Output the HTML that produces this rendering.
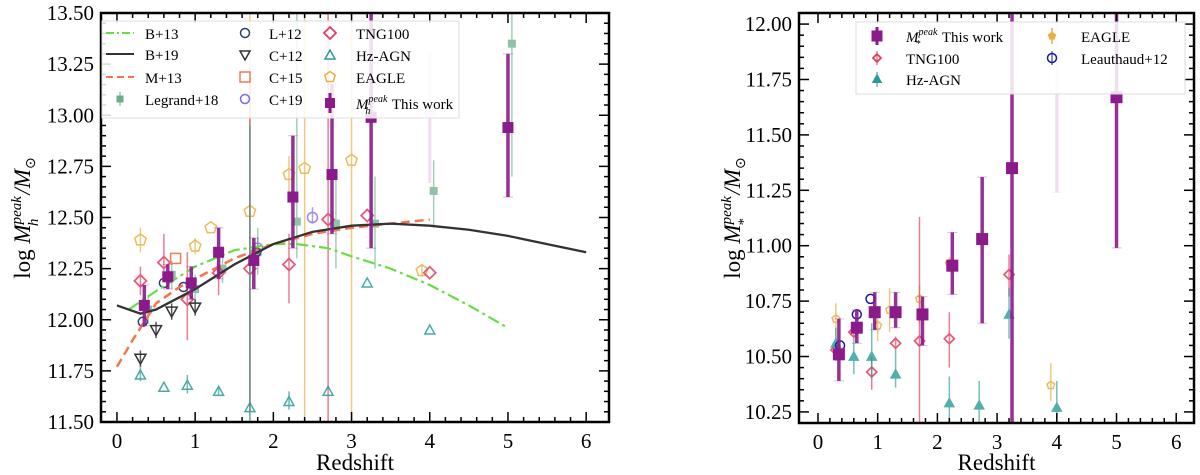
<!DOCTYPE html>
<html><head><meta charset="utf-8"><style>
html,body{margin:0;padding:0;background:#fff;}
svg{display:block;font-family:"Liberation Serif",serif;}
</style></head><body>
<svg id="fig" width="1200" height="475" viewBox="0 0 1200 475" xmlns="http://www.w3.org/2000/svg"></svg>
<script>
// ===== Left panel data (halo mass) =====
const twZ=[0.35,0.65,0.95,1.3,1.75,2.25,2.75,3.25,5.0];
const twM=[12.07,12.21,12.18,12.33,12.29,12.60,12.71,12.99,12.94];
const twLo=[11.97,12.15,12.10,12.20,12.15,12.35,12.42,12.35,12.60];
const twHi=[12.17,12.27,12.26,12.45,12.40,12.90,13.15,13.60,13.30];
const twFadeZ=[4.0]; const twFadeM=[13.02]; const twFadeLo=[12.67]; const twFadeHi=[13.31];
const lgZ=[0.4,0.7,1.0,1.35,1.8,2.3,2.8,3.3,4.05,5.05];
const lgM=[12.05,12.22,12.15,12.25,12.33,12.48,12.47,12.47,12.63,13.35];
const lgLo=[11.98,12.15,12.08,12.18,12.22,12.30,12.25,12.25,12.45,12.70];
const lgHi=[12.12,12.29,12.22,12.32,12.45,13.55,12.70,12.70,12.78,13.55];
const l12Z=[0.33,0.6,0.85,1.78]; const l12M=[11.99,12.18,12.16,12.33];
const c12Z=[0.3,0.5,0.7,1.0]; const c12M=[11.81,11.95,12.04,12.06];
const c15Z=[0.75]; const c15M=[12.30];
const c19Z=[1.8,2.5]; const c19M=[12.35,12.50];
const tngZ=[0.3,0.6,0.9,1.3,1.7,2.2,2.7,3.2,4.0];
const tngM=[12.19,12.28,12.10,12.23,12.25,12.27,12.49,12.51,12.23];
const tngLo=[12.12,12.20,11.90,12.12,11.55,12.08,11.50,12.51,12.23];
const tngHi=[12.26,12.42,12.33,12.35,13.20,12.42,13.60,12.51,12.23];
const hzZ=[0.3,0.6,0.9,1.3,1.7,2.2,2.7,3.2,4.0];
const hzM=[11.73,11.67,11.68,11.65,11.57,11.60,11.65,12.18,11.95];
const hzLo=[11.70,11.67,11.64,11.63,11.50,11.56,11.65,12.18,11.95];
const hzHi=[11.77,11.67,11.73,11.67,12.95,11.65,11.65,12.18,11.95];
const eaZ=[0.3,1.0,1.2,1.7,2.2,2.4,3.0,3.9];
const eaM=[12.39,12.36,12.45,12.53,12.71,12.74,12.78,12.24];
const eaLo=[12.33,12.32,12.45,11.50,12.62,11.50,11.50,12.21];
const eaHi=[12.45,12.40,12.45,13.60,12.80,13.60,13.60,12.27];
const b19Z=[0,0.3,0.5,1,1.5,2,2.5,3,3.5,4,4.5,5,5.5,6];
const b19M=[12.07,12.03,12.05,12.15,12.27,12.37,12.43,12.46,12.47,12.46,12.44,12.41,12.37,12.33];
const b13Z=[0.15,0.5,1,1.5,2,2.3,2.7,3,3.5,4,4.5,5];
const b13M=[12.05,12.14,12.26,12.34,12.37,12.37,12.35,12.31,12.25,12.17,12.07,11.96];
const m13Z=[0,0.2,0.5,0.8,1,1.5,2,2.5,3,3.5,4];
const m13M=[11.77,11.90,12.08,12.16,12.20,12.30,12.37,12.42,12.45,12.47,12.49];
const leftYTicks=["11.50","11.75","12.00","12.25","12.50","12.75","13.00","13.25","13.50"];
const xTicks=["0","1","2","3","4","5","6"];
// ===== Right panel data (stellar mass) =====
const rtwZ=[0.35,0.65,0.95,1.3,1.75,2.25,2.75,3.25,5.0];
const rtwM=[10.51,10.63,10.70,10.70,10.69,10.91,11.03,11.35,11.67];
const rtwLo=[10.39,10.56,10.62,10.63,10.55,10.78,10.65,10.15,10.99];
const rtwHi=[10.67,10.71,10.79,10.79,10.77,11.06,11.31,12.10,12.10];
const rtwFadeZ=[4.0]; const rtwFadeM=[11.87]; const rtwFadeLo=[11.24]; const rtwFadeHi=[12.10];
const rtngZ=[0.3,0.6,0.9,1.3,1.7,2.2,3.2];
const rtngM=[10.53,10.61,10.43,10.56,10.57,10.58,10.87];
const rtngLo=[10.50,10.58,10.35,10.53,10.15,10.45,10.77];
const rtngHi=[10.56,10.65,10.50,10.59,11.13,10.70,10.96];
const rhzZ=[0.3,0.6,0.9,1.3,2.2,2.7,3.2,4.0];
const rhzM=[10.56,10.50,10.50,10.42,10.29,10.28,10.69,10.27];
const rhzLo=[10.48,10.42,10.40,10.36,10.15,10.15,10.58,10.15];
const rhzHi=[10.63,10.58,10.65,10.53,10.41,10.39,10.81,10.39];
const reaZ=[0.3,1.0,1.2,1.7,2.2,3.9];
const reaM=[10.67,10.64,10.71,10.76,10.92,10.37];
const reaLo=[10.58,10.57,10.61,10.65,10.88,10.30];
const reaHi=[10.74,10.72,10.81,10.82,10.95,10.47];
const rlZ=[0.37,0.65,0.88]; const rlM=[10.55,10.69,10.76];
const rightYTicks=["10.25","10.50","10.75","11.00","11.25","11.50","11.75","12.00"];

const NS="http://www.w3.org/2000/svg";
const fig=document.getElementById('fig');
function el(tag,attrs,parent){const e=document.createElementNS(NS,tag);for(const k in attrs)e.setAttribute(k,attrs[k]);(parent||fig).appendChild(e);return e;}

const C={tw:'#8b1a8b',lg:'#5aa57a',l12:'#2b3f7a',c12:'#333',c15:'#f07a5a',c19:'#7b6ae0',tng:'#e0405f',hz:'#2a9a9a',ea:'#e6b040',lea:'#1a1a9a'};

function panel(P){
  const g=el('g',{});
  
  
  const sx=v=>P.x0+(v-P.xmin)*(P.x1-P.x0)/(P.xmax-P.xmin);
  const sy=v=>P.y1-(v-P.ymin)*(P.y1-P.y0)/(P.ymax-P.ymin);
  P.sx=sx;P.sy=sy;
  const clip=el('clipPath',{id:P.name+'-clip'},g);
  el('rect',{x:P.x0,y:P.y0,width:P.x1-P.x0,height:P.y1-P.y0},clip);
  P.g=el('g',{'clip-path':'url(#'+P.name+'-clip)'},g);
  const ax=el('g',{},g);
  
  
  for(let i=0;i<=6*5;i++){const v=i/5;const x=sx(v);const L=i%5==0?10:5;
    el('line',{x1:x,x2:x,y1:P.y1,y2:P.y1-L,stroke:'#000','stroke-width':1.5},ax);
    el('line',{x1:x,x2:x,y1:P.y0,y2:P.y0+L,stroke:'#000','stroke-width':1.5},ax);}
  xTicks.forEach(t=>{const tx=el('text',{x:sx(+t),y:P.y1+26,'font-size':21,'text-anchor':'middle'},ax);tx.textContent=t;
    });
  for(let v=Math.ceil(P.ymin/0.05)*0.05;v<=P.ymax+1e-6;v+=0.05){const y=sy(v);const maj=Math.abs(v/0.25-Math.round(v/0.25))<1e-3;const L=maj?10:5;
    el('line',{x1:P.x0,x2:P.x0+L,y1:y,y2:y,stroke:'#000','stroke-width':1.5},ax);
    el('line',{x1:P.x1,x2:P.x1-L,y1:y,y2:y,stroke:'#000','stroke-width':1.5},ax);}
  P.yTicks.forEach(t=>{const tx=el('text',{x:P.x0-7,y:sy(+t)+7,'font-size':21,'text-anchor':'end'},ax);tx.textContent=t;
    });
  el('rect',{x:P.x0,y:P.y0,width:P.x1-P.x0,height:P.y1-P.y0,fill:'none',stroke:'#000','stroke-width':2.5},ax);
  const xl=el('text',{x:(P.x0+P.x1)/2,y:470,'font-size':23,'text-anchor':'middle'},ax);xl.textContent='Redshift';
  
  return P;
}
function marker(g,type,x,y,col,s,fill){
  const f=fill?col:'none';
  if(type=='sq') el('rect',{x:x-s,y:y-s,width:2*s,height:2*s,fill:col,stroke:col},g);
  else if(type=='circ') el('circle',{cx:x,cy:y,r:s,fill:'none',stroke:col,'stroke-width':1.5},g);
  else if(type=='osq') el('rect',{x:x-s,y:y-s,width:2*s,height:2*s,fill:'none',stroke:col,'stroke-width':1.5},g);
  else if(type=='dia') el('polygon',{points:`${x},${y-s} ${x+s},${y} ${x},${y+s} ${x-s},${y}`,fill:'none',stroke:col,'stroke-width':1.8},g);
  else if(type=='tri') el('polygon',{points:`${x},${y-s} ${x+s},${y+s*0.8} ${x-s},${y+s*0.8}`,fill:f,stroke:col,'stroke-width':1.5},g);
  else if(type=='vtri') el('polygon',{points:`${x},${y+s} ${x+s},${y-s*0.8} ${x-s},${y-s*0.8}`,fill:'none',stroke:col,'stroke-width':1.5},g);
  else if(type=='pent'){let p=[];for(let i=0;i<5;i++){const a=-Math.PI/2+i*2*Math.PI/5;p.push((x+s*Math.cos(a))+','+(y+s*Math.sin(a)));}
    el('polygon',{points:p.join(' '),fill:f,stroke:col,'stroke-width':1.5},g);}
}
function series(P,name,Z,M,Lo,Hi,type,col,s,opts){
  opts=opts||{};
  const g=el('g',{opacity:opts.op||1},P.g);
  
  
  Z.forEach((z,i)=>{const x=P.sx(z),y=P.sy(M[i]);
    if(Lo){el('line',{x1:x,x2:x,y1:P.sy(Lo[i]),y2:P.sy(Hi[i]),stroke:col,'stroke-width':opts.ew||1.5,opacity:opts.eop||0.8},g);
      if(opts.cap){[Lo[i],Hi[i]].forEach(v=>el('line',{x1:x-5,x2:x+5,y1:P.sy(v),y2:P.sy(v),stroke:col,'stroke-width':1,opacity:0.3},g));}}
    marker(g,type,x,y,col,s,opts.fill);});
}
function curve(P,name,Z,M,col,dash,w){
  const d=Z.map((z,i)=>(i?'L':'M')+P.sx(z)+','+P.sy(M[i])).join(' ');
  const p=el('path',{d:d,fill:'none',stroke:col,'stroke-width':w||2.5,'stroke-dasharray':dash||'none'},P.g);
  
  
}

const L=panel({name:'halo-mass-panel',x0:101,x1:609,y0:13,y1:422,xmin:-0.204,xmax:6.292,ymin:11.5,ymax:13.5,yTicks:leftYTicks});
series(L,'legrand18-points',lgZ,lgM,lgLo,lgHi,'sq','#6aae8a',3.5,{op:0.75});
series(L,'eagle-points',eaZ,eaM,eaLo,eaHi,'pent',C.ea,6,{op:0.85});
series(L,'tng100-points',tngZ,tngM,tngLo,tngHi,'dia',C.tng,6,{op:0.85});
series(L,'hzagn-points',hzZ,hzM,hzLo,hzHi,'tri',C.hz,5,{op:0.85});
series(L,'l12-points',l12Z,l12M,null,null,'circ',C.l12,4.5);
series(L,'c12-points',c12Z,c12M,c12Z.map((z,i)=>c12M[i]-0.04),c12Z.map((z,i)=>c12M[i]+0.04),'vtri',C.c12,5.5);
series(L,'c15-points',c15Z,c15M,null,null,'osq',C.c15,5);
series(L,'c19-points',c19Z,c19M,c19Z.map((z,i)=>c19M[i]-0.03),c19Z.map((z,i)=>c19M[i]+0.05),'circ',C.c19,5,{op:0.8});
curve(L,'b13-curve',b13Z,b13M,'#66dd44','12,4,3,4',2.2);
curve(L,'m13-curve',m13Z,m13M,'#f4754a','9,5',2.5);
curve(L,'b19-curve',b19Z,b19M,'#333',null,2.3);
series(L,'this-work-faded',twFadeZ,twFadeM,twFadeLo,twFadeHi,'sq','#c070c0',5,{op:0.3,ew:3,cap:true});
series(L,'this-work-points',twZ,twM,twLo,twHi,'sq',C.tw,5,{ew:3.5,eop:0.9,cap:true});

(function(){
  const g=el('g',{});
  
  
  el('rect',{x:102,y:21,width:357,height:97,fill:'#fff',stroke:'#ddd','fill-opacity':0.85},g);
  const t=(x,y,s)=>{const e=el('text',{x:x,y:y+6,'font-size':15},g);e.textContent=s;return e;};
  el('line',{x1:106,x2:134,y1:33,y2:33,stroke:'#66dd44','stroke-width':2,'stroke-dasharray':'8,3,2,3'},g);t(145,33,'B+13');
  el('line',{x1:106,x2:134,y1:54,y2:54,stroke:'#333','stroke-width':2},g);t(145,54,'B+19');
  el('line',{x1:106,x2:134,y1:77,y2:77,stroke:'#f4754a','stroke-width':2,'stroke-dasharray':'7,4'},g);t(145,77,'M+13');
  marker(g,'sq',120,99,'#6aae8a',3,true);el('line',{x1:120,x2:120,y1:92,y2:106,stroke:'#6aae8a'},g);t(145,99,'Legrand+18');
  marker(g,'circ',245,33,C.l12,4.5);t(269,33,'L+12');
  marker(g,'vtri',245,55,C.c12,5);t(269,55,'C+12');
  marker(g,'osq',245,77,C.c15,5);t(269,77,'C+15');
  marker(g,'circ',245,99,C.c19,4.5);t(269,99,'C+19');
  marker(g,'dia',330,33,C.tng,6);t(356,33,'TNG100');
  marker(g,'tri',330,55,C.hz,5);t(356,55,'Hz-AGN');
  marker(g,'pent',330,77,C.ea,5.5);t(356,77,'EAGLE');
  marker(g,'sq',330,103,C.tw,4.5);el('line',{x1:330,x2:330,y1:93,y2:113,stroke:C.tw,'stroke-width':3},g);
  const e=el('text',{x:356,y:109,'font-size':15},g);
  e.innerHTML='<tspan font-style="italic">M</tspan><tspan font-style="italic" font-size="10" dy="-7">peak</tspan><tspan font-style="italic" font-size="10" dx="-22" dy="12">h</tspan><tspan dx="18" dy="-5"> This work</tspan>';
})();
(function(){
  const e=el('text',{transform:'translate(30,218) rotate(-90)','font-size':23,'text-anchor':'middle'});
  
  
  e.innerHTML='log <tspan font-style="italic">M</tspan><tspan font-style="italic" font-size="15" dy="-9">peak</tspan><tspan font-style="italic" font-size="15" dx="-30" dy="17">h</tspan><tspan dx="24" dy="-8" font-style="italic">/M</tspan><tspan font-size="14" dy="5">⊙</tspan>';
})();

const R=panel({name:'stellar-mass-panel',x0:799,x1:1194,y0:13,y1:423,xmin:-0.318,xmax:6.298,ymin:10.2,ymax:12.05,yTicks:rightYTicks});
series(R,'r-eagle-points',reaZ,reaM,reaLo,reaHi,'pent',C.ea,4,{op:0.85,fill:false});
series(R,'r-tng100-points',rtngZ,rtngM,rtngLo,rtngHi,'dia',C.tng,5,{op:0.85});
series(R,'r-hzagn-points',rhzZ,rhzM,rhzLo,rhzHi,'tri',C.hz,4.5,{op:0.8,fill:true});
series(R,'leauthaud12-points',rlZ,rlM,null,null,'circ',C.lea,4.5);
series(R,'r-this-work-faded',rtwFadeZ,rtwFadeM,rtwFadeLo,rtwFadeHi,'sq','#c070c0',5,{op:0.3,ew:3,cap:true});
series(R,'r-this-work-points',rtwZ,rtwM,rtwLo,rtwHi,'sq',C.tw,5.5,{ew:3.5,eop:0.9,cap:true});
(function(){
  const g=el('g',{});
  
  
  el('rect',{x:856,y:22,width:329,height:72,fill:'#fff',stroke:'#ddd','fill-opacity':0.85},g);
  const t=(x,y,s)=>{const e=el('text',{x:x,y:y+6,'font-size':15},g);e.textContent=s;return e;};
  marker(g,'sq',877,36,C.tw,5);el('line',{x1:877,x2:877,y1:27,y2:45,stroke:C.tw,'stroke-width':3},g);
  const e=el('text',{x:906,y:42,'font-size':15},g);
  e.innerHTML='<tspan font-style="italic">M</tspan><tspan font-style="italic" font-size="10" dy="-7">peak</tspan><tspan font-style="italic" font-size="10" dx="-22" dy="12">*</tspan><tspan dx="18" dy="-5"> This work</tspan>';
  marker(g,'dia',877,58,C.tng,4);el('line',{x1:877,x2:877,y1:51,y2:65,stroke:C.tng},g);t(906,58,'TNG100');
  marker(g,'tri',877,79,C.hz,4,true);el('line',{x1:877,x2:877,y1:72,y2:87,stroke:C.hz},g);t(906,79,'Hz-AGN');
  marker(g,'pent',1052,36,C.ea,3.5,true);el('line',{x1:1052,x2:1052,y1:28,y2:44,stroke:C.ea,'stroke-width':1.5},g);t(1081,36,'EAGLE');
  marker(g,'circ',1052,58,C.lea,4.5);el('line',{x1:1052,x2:1052,y1:51,y2:65,stroke:C.lea},g);t(1081,58,'Leauthaud+12');
})();
(function(){
  const e=el('text',{transform:'translate(740,218) rotate(-90)','font-size':23,'text-anchor':'middle'});
  
  
  e.innerHTML='log <tspan font-style="italic">M</tspan><tspan font-style="italic" font-size="15" dy="-9">peak</tspan><tspan font-style="italic" font-size="15" dx="-30" dy="17">*</tspan><tspan dx="24" dy="-8" font-style="italic">/M</tspan><tspan font-size="14" dy="5">⊙</tspan>';
})();
</script>
</body></html>
